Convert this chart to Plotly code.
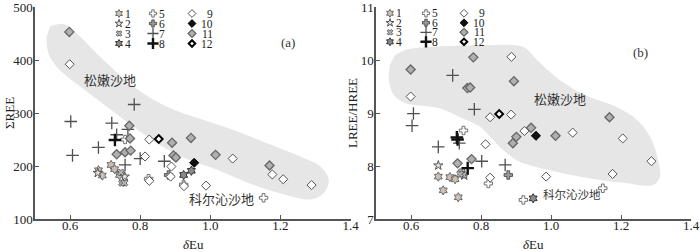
import plotly.graph_objects as go

# ---------------- data ----------------
series_names = ["1", "2", "3", "4", "5", "6", "7", "8", "9", "10", "11", "12"]

# panel (a): dEu vs SigmaREE
a_x1 = [0.681, 0.692, 0.717, 0.727, 0.741]
a_y1 = [192, 182, 202, 194, 183]
a_x2 = [0.679, 0.756]
a_y2 = [187, 180]
a_x3 = [0.745, 0.748, 0.755]
a_y3 = [188, 168, 168]
a_x4 = [0.924, 0.946]
a_y4 = [183, 191]
a_x5 = [0.757, 0.824, 0.924, 1.152]
a_y5 = [250, 176, 165, 140]
a_x6 = [0.881]
a_y6 = [183]
a_x7 = [0.602, 0.607, 0.681, 0.719, 0.733, 0.765, 0.783, 0.757, 0.800, 0.869]
a_y7 = [284, 220, 235, 281, 259, 269, 316, 202, 214, 209]
a_x8 = [0.728]
a_y8 = [249]
a_x9 = [0.599, 0.826, 0.814, 0.889, 0.887, 0.826, 0.925, 0.988, 1.064, 1.177, 1.208, 1.289]
a_y9 = [392, 250, 218, 199, 180, 172, 162, 163, 214, 184, 175, 164]
a_x10 = [0.954]
a_y10 = [206]
a_x11 = [0.598, 0.769, 0.771, 0.733, 0.757, 0.773, 0.891, 0.895, 0.902, 0.945, 1.015, 1.169]
a_y11 = [453, 276, 252, 222, 226, 229, 244, 220, 216, 253, 221, 201]
a_x12 = [0.853]
a_y12 = [251]

# panel (b): dEu vs LREE/HREE
b_x1 = [0.678, 0.711, 0.726, 0.692, 0.735]
b_y1 = [7.80, 7.79, 7.75, 7.54, 7.41]
b_x2 = [0.678, 0.752]
b_y2 = [8.01, 7.82]
b_x3 = [0.745, 0.750, 0.740]
b_y3 = [7.89, 7.83, 7.85]
b_x4 = [0.949]
b_y4 = [7.39]
b_x5 = [0.750, 0.821, 0.921, 1.148]
b_y5 = [8.67, 7.67, 7.36, 7.58]
b_x6 = [0.878]
b_y6 = [7.83]
b_x7 = [0.603, 0.607, 0.678, 0.719, 0.738, 0.781, 0.802, 0.869]
b_y7 = [8.76, 8.99, 8.36, 9.71, 8.43, 9.07, 8.09, 8.02]
b_x8 = [0.731, 0.733, 0.762]
b_y8 = [8.54, 8.50, 7.96]
b_x9 = [0.599, 0.887, 0.826, 0.886, 0.924, 0.813, 0.826, 0.986, 1.062, 1.176, 1.205, 1.287]
b_y9 = [9.31, 10.06, 8.92, 8.97, 8.66, 8.41, 7.78, 7.80, 8.63, 7.85, 8.52, 8.09]
b_x10 = [0.957]
b_y10 = [8.57]
b_x11 = [0.599, 0.778, 0.761, 0.769, 0.894, 1.167, 1.013, 0.943, 0.901, 0.891, 0.733, 0.773]
b_y11 = [9.82, 10.05, 9.47, 9.48, 9.60, 8.92, 8.57, 8.72, 8.55, 8.43, 8.05, 8.13]
b_x12 = [0.852]
b_y12 = [8.98]

# outline of the shaded "松嫩沙地" field
a_region_x = [0.543, 0.581, 0.619, 0.686, 0.781, 0.876, 0.981, 1.067, 1.162, 1.257, 1.314,
              1.338, 1.324, 1.286, 1.219, 1.124, 1.019, 0.933, 0.848, 0.781, 0.705, 0.629,
              0.562, 0.538, 0.533]
a_region_y = [463, 468, 450, 406, 350, 312, 287, 268, 243, 218, 199,
              174, 149, 137, 145, 164, 193, 213, 243, 274, 312, 350,
              387, 413, 444]
b_region_x = [0.554, 0.583, 0.654, 0.797, 0.897, 0.926, 0.960, 1.026, 1.097, 1.189, 1.246,
              1.283, 1.306, 1.311, 1.291, 1.211, 1.091, 0.997, 0.911, 0.863, 0.797, 0.740,
              0.686, 0.640, 0.583, 0.551, 0.537, 0.540]
b_region_y = [10.09, 10.19, 10.25, 10.28, 10.28, 10.23, 10.00, 9.62, 9.34, 9.11, 8.87,
              8.55, 8.11, 7.79, 7.64, 7.68, 7.79, 7.92, 8.08, 8.30, 8.74, 8.92,
              9.08, 9.13, 9.19, 9.34, 9.62, 9.91]

x_ticks = [0.6, 0.8, 1.0, 1.2, 1.4]
a_y_ticks = [100, 200, 300, 400, 500]
b_y_ticks = [7, 8, 9, 10, 11]

a_data = [(a_x1, a_y1), (a_x2, a_y2), (a_x3, a_y3), (a_x4, a_y4), (a_x5, a_y5), (a_x6, a_y6),
          (a_x7, a_y7), (a_x8, a_y8), (a_x9, a_y9), (a_x10, a_y10), (a_x11, a_y11), (a_x12, a_y12)]
b_data = [(b_x1, b_y1), (b_x2, b_y2), (b_x3, b_y3), (b_x4, b_y4), (b_x5, b_y5), (b_x6, b_y6),
          (b_x7, b_y7), (b_x8, b_y8), (b_x9, b_y9), (b_x10, b_y10), (b_x11, b_y11), (b_x12, b_y12)]

# ---------------- styling ----------------
STY = [
    dict(symbol="hexagram", size=7, color="#cbbfb6", line=dict(color="#6a6a6a", width=1)),
    dict(symbol="star", size=7, color="#e4e0dc", line=dict(color="#555555", width=1)),
    dict(symbol="x", size=6, color="#b5b5b5", line=dict(color="#444444", width=0.8)),
    dict(symbol="hexagram", size=7, color="#8c8c8c", line=dict(color="#333333", width=1)),
    dict(symbol="cross", size=7, color="#ffffff", line=dict(color="#707070", width=1)),
    dict(symbol="cross", size=7, color="#9a9a9a", line=dict(color="#555555", width=1)),
    dict(symbol="cross-thin", size=9, color="#505050", line=dict(color="#505050", width=1.3)),
    dict(symbol="cross-thin", size=9, color="#111111", line=dict(color="#111111", width=2.4)),
    dict(symbol="diamond", size=7, color="#ffffff", line=dict(color="#555555", width=1)),
    dict(symbol="diamond", size=7, color="#111111", line=dict(color="#000000", width=1)),
    dict(symbol="diamond", size=7, color="#b0b0b0", line=dict(color="#666666", width=1.3)),
    dict(symbol="diamond", size=6, color="#ffffff", line=dict(color="#000000", width=2)),
]

W, H = 700, 252
ML, MR, MT, MB = 35, 9, 7, 33
PW = W - ML - MR
PH = H - MT - MB
A_PX = (35, 350.5)
B_PX = (376, 691)
Y_PX = (7, 219)
XR = [0.5, 1.4]
YR_A = [100, 500]
YR_B = [7, 11]


def px2x(px, panel):
    lo, hi = panel
    return XR[0] + (px - lo) / (hi - lo) * (XR[1] - XR[0])


def px2y(py, yr):
    return yr[0] + (Y_PX[1] - py) / (Y_PX[1] - Y_PX[0]) * (yr[1] - yr[0])


def paper_x(px):
    return (px - ML) / PW


def paper_y(py):
    return (H - MB - py) / PH


FONT = "Liberation Serif"
CJK = "Noto Sans CJK SC"
fig = go.Figure()

# shaded fields
for rx, ry, xa, ya in [(a_region_x, a_region_y, "x", "y"), (b_region_x, b_region_y, "x2", "y2")]:
    fig.add_trace(go.Scatter(x=rx, y=ry, mode="lines", fill="toself", fillcolor="#e6e6e6",
                             line=dict(width=0, shape="spline", smoothing=1.0, color="#e6e6e6"),
                             xaxis=xa, yaxis=ya, hoverinfo="skip", showlegend=False))

# data points
for data, xa, ya in [(a_data, "x", "y"), (b_data, "x2", "y2")]:
    for i, (xs, ys) in enumerate(data):
        fig.add_trace(go.Scatter(x=xs, y=ys, mode="markers", marker=STY[i], name=series_names[i],
                                 xaxis=xa, yaxis=ya, showlegend=False, cliponaxis=False))

# in-plot legends (3 columns x 4 rows)
annotations = []
legend_cfg = [
    dict(panel=A_PX, yr=YR_A, xa="x", ya="y", cols=[119, 153, 192], rows=[13.5, 23.5, 33.5, 43.5]),
    dict(panel=B_PX, yr=YR_B, xa="x2", ya="y2", cols=[390, 426, 464], rows=[13.3, 22.8, 32.3, 41.8]),
]
for cfg in legend_cfg:
    for i, nm in enumerate(series_names):
        c, r = i // 4, i % 4
        mx = cfg["cols"][c]
        my = cfg["rows"][r]
        st = dict(STY[i])
        st["size"] = st["size"] - 1
        fig.add_trace(go.Scatter(x=[px2x(mx, cfg["panel"])], y=[px2y(my, cfg["yr"])], mode="markers",
                                 marker=st, xaxis=cfg["xa"], yaxis=cfg["ya"], showlegend=False,
                                 hoverinfo="skip", cliponaxis=False))
        if c < 2:
            tx, anc = mx + 5, "left"
        else:
            tx, anc = mx + 22, "right"
        annotations.append(dict(x=px2x(tx, cfg["panel"]), y=px2y(my, cfg["yr"]), xref=cfg["xa"],
                                yref=cfg["ya"], text=nm, showarrow=False, xanchor=anc,
                                yanchor="middle", borderpad=0,
                                font=dict(family=FONT, size=11.5, color="#222")))

# region labels & panel labels
labels = [
    ("松嫩沙地", A_PX, YR_A, "x", "y", 110, 79, CJK, 13),
    ("科尔沁沙地", A_PX, YR_A, "x", "y", 221, 198, CJK, 13),
    ("(a)", A_PX, YR_A, "x", "y", 288, 42, FONT, 13),
    ("松嫩沙地", B_PX, YR_B, "x2", "y2", 560, 98, CJK, 13),
    ("科尔沁沙地", B_PX, YR_B, "x2", "y2", 572, 194, CJK, 11.5),
    ("(b)", B_PX, YR_B, "x2", "y2", 640, 52, FONT, 13),
]
for txt, pnl, yr, xa, ya, px, py, fam, sz in labels:
    annotations.append(dict(x=px2x(px, pnl), y=px2y(py, yr), xref=xa, yref=ya, text=txt,
                            showarrow=False, xanchor="center", yanchor="middle",
                            font=dict(family=fam, size=sz, color="#333")))

# axis titles
titles = [
    ("ΣREE", 9, 113, -90),
    ("LREE/HREE", 352, 113, -90),
    ("<i>δ</i>Eu", 193, 244, 0),
    ("<i>δ</i>Eu", 533, 244, 0),
]
for txt, px, py, ang in titles:
    annotations.append(dict(x=paper_x(px), y=paper_y(py), xref="paper", yref="paper", text=txt,
                            showarrow=False, xanchor="center", yanchor="middle", textangle=ang,
                            font=dict(family=FONT, size=13, color="#222")))

axis_common = dict(showline=True, linecolor="#555555", linewidth=1.5, ticks="inside", ticklen=4,
                   tickwidth=1, tickcolor="#555555", showgrid=False, zeroline=False,
                   ticklabeloverflow="allow", automargin=False,
                   tickfont=dict(family=FONT, size=13, color="#222"))

xdom_a = [0, paper_x(A_PX[1])]
xdom_b = [paper_x(B_PX[0]), 1]

fig.update_layout(
    template="none",
    width=W, height=H, margin=dict(l=ML, r=MR, t=MT, b=MB, autoexpand=False),
    paper_bgcolor="white", plot_bgcolor="white", showlegend=False,
    xaxis=dict(domain=xdom_a, range=XR, tickvals=x_ticks, ticktext=[f"{v:.1f}" for v in x_ticks],
               anchor="y", ticklabelstandoff=-6, **axis_common),
    yaxis=dict(domain=[0, 1], range=YR_A, tickvals=a_y_ticks, anchor="x", ticklabelstandoff=-2,
               **axis_common),
    xaxis2=dict(domain=xdom_b, range=XR, tickvals=x_ticks, ticktext=[f"{v:.1f}" for v in x_ticks],
                anchor="y2", ticklabelstandoff=-6, **axis_common),
    yaxis2=dict(domain=[0, 1], range=YR_B, tickvals=b_y_ticks, anchor="x2", ticklabelstandoff=-2,
                **axis_common),
    annotations=annotations,
)

fig.write_html("out.html", config={"displayModeBar": False},
               post_script="document.body.style.margin='0';document.body.style.padding='0';")
